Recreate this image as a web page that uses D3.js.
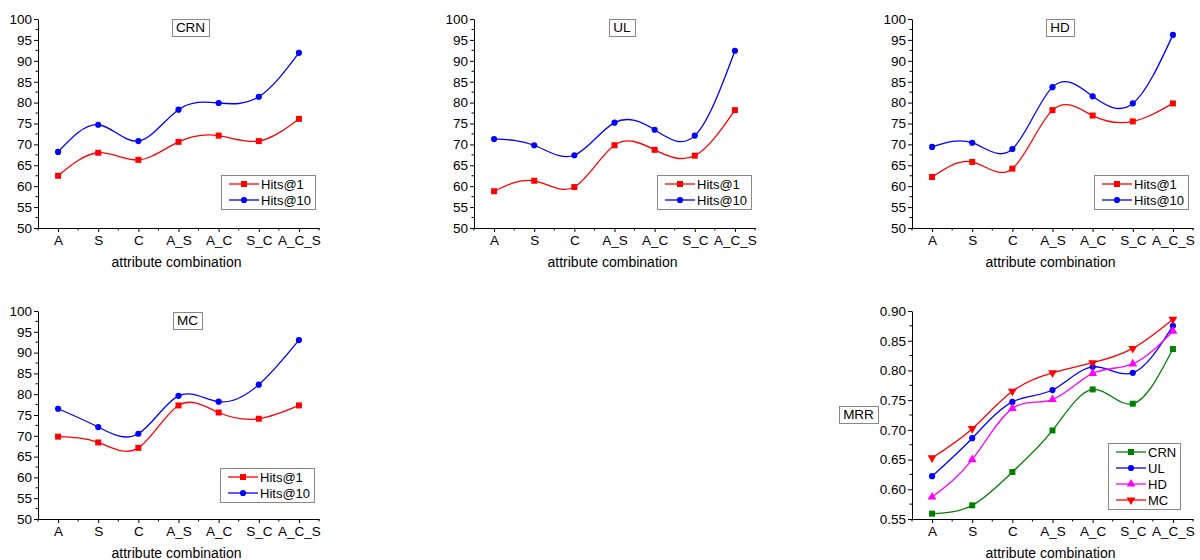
<!DOCTYPE html>
<html>
<head>
<meta charset="utf-8">
<script src="https://cdn.jsdelivr.net/npm/d3@7"></script>
<style>
  body { margin: 0; background: #fff; }
  svg { display: block; font-family: "Liberation Sans", Arial, sans-serif; }
</style>
</head>
<body>
<svg id="chart" width="1200" height="560"></svg>
<script>
// categorias do eixo x
const categories = ["A", "S", "C", "A_S", "A_C", "S_C", "A_C_S"];

// Hits@1 / Hits@10 por conjunto de dados
const crnHits1  = [62.5, 68.0, 66.3, 70.6, 72.1, 70.8, 76.1];
const crnHits10 = [68.2, 74.7, 70.8, 78.3, 79.9, 81.4, 91.9];
const ulHits1   = [58.8, 61.3, 59.8, 69.8, 68.7, 67.3, 78.2];
const ulHits10  = [71.3, 69.8, 67.4, 75.2, 73.5, 72.1, 92.4];
const hdHits1   = [62.2, 65.8, 64.2, 78.2, 76.9, 75.5, 79.8];
const hdHits10  = [69.4, 70.4, 68.9, 83.7, 81.5, 79.8, 96.2];
const mcHits1   = [69.8, 68.4, 67.1, 77.3, 75.6, 74.1, 77.3];
const mcHits10  = [76.5, 72.1, 70.5, 79.6, 78.2, 82.3, 93.0];

// MRR
const mrrCRN = [0.559, 0.573, 0.629, 0.699, 0.768, 0.744, 0.836];
const mrrUL  = [0.622, 0.686, 0.747, 0.767, 0.806, 0.796, 0.875];
const mrrHD  = [0.587, 0.650, 0.736, 0.751, 0.795, 0.811, 0.866];
const mrrMC  = [0.653, 0.702, 0.765, 0.796, 0.813, 0.837, 0.886];

const hitsTicks = [50, 55, 60, 65, 70, 75, 80, 85, 90, 95, 100];
const mrrTicks = [0.55, 0.60, 0.65, 0.70, 0.75, 0.80, 0.85, 0.90];

const svg = d3.select("#chart");
const FONT = 13.5;

const symbols = {
    square: d3.symbol().type(d3.symbolSquare).size(36),
    circle: d3.symbol().type(d3.symbolCircle).size(30),
    up: d3.symbol().type(d3.symbolTriangle).size(34),
    down: d3.symbol().type(d3.symbolTriangle).size(34)
};

function marker(g, shape, color, x, y) {
    g.append("path")
        .attr("d", symbols[shape]())
        .attr("transform", `translate(${x},${y})` + (shape === "down" ? " rotate(180)" : ""))
        .attr("fill", color);
}

function drawPanel(cfg) {
    const x = d3.scaleLinear().domain([-0.5, 6.5]).range([cfg.left, cfg.right]);
    const y = d3.scaleLinear().domain(cfg.domain).range([cfg.bottom, cfg.top]);
    const g = svg.append("g");

    // ticks secundários
    const step = cfg.ticks[1] - cfg.ticks[0];
    const yMinor = cfg.ticks.slice(0, -1).map(t => t + step / 2);
    const xMinor = d3.range(-0.5, 7, 1);

    g.selectAll(".ymin").data(yMinor).join("line")
        .attr("x1", cfg.left - 2.5).attr("x2", cfg.left)
        .attr("y1", d => y(d)).attr("y2", d => y(d))
        .attr("stroke", "#000");
    g.selectAll(".xmin").data(xMinor).join("line")
        .attr("x1", d => x(d)).attr("x2", d => x(d))
        .attr("y1", cfg.bottom).attr("y2", cfg.bottom + 2.5)
        .attr("stroke", "#000");

    const yAxis = g.append("g")
        .attr("transform", `translate(${cfg.left},0)`)
        .call(d3.axisLeft(y).tickValues(cfg.ticks).tickSize(4).tickSizeOuter(0).tickPadding(2)
            .tickFormat(cfg.format));
    const xAxis = g.append("g")
        .attr("transform", `translate(0,${cfg.bottom})`)
        .call(d3.axisBottom(x).tickValues(d3.range(7)).tickSize(4).tickSizeOuter(0).tickPadding(3)
            .tickFormat(i => categories[i]));
    [yAxis, xAxis].forEach(a => {
        a.attr("font-family", null).attr("font-size", FONT);
        a.selectAll("text").attr("fill", "#000");
    });

    g.append("text")
        .attr("x", (cfg.left + cfg.right) / 2 - 2)
        .attr("y", cfg.bottom + 39)
        .attr("text-anchor", "middle")
        .attr("font-size", 14)
        .text("attribute combination");

    // séries
    const line = d3.line()
        .x((d, i) => x(i))
        .y(d => y(d))
        .curve(d3.curveNatural);

    cfg.series.forEach(s => {
        g.append("path")
            .attr("d", line(s.values))
            .attr("fill", "none")
            .attr("stroke", s.color)
            .attr("stroke-width", 1.3);
        s.values.forEach((v, i) => marker(g, s.shape, s.color, x(i), y(v)));
    });

    // caixa com título
    if (cfg.title) {
        const box = g.append("rect").attr("fill", "#fff").attr("stroke", "#888");
        const t = g.append("text")
            .attr("x", cfg.title.x).attr("y", cfg.title.y)
            .attr("text-anchor", "middle")
            .attr("dominant-baseline", "central")
            .attr("font-size", 13.5)
            .text(cfg.title.text);
        const bb = t.node().getBBox();
        box.attr("x", Math.round(bb.x - 4) + 0.5).attr("y", Math.round(cfg.title.y - 8.5) + 0.5)
            .attr("width", Math.round(bb.width + 8)).attr("height", 17);
    }

    // legenda
    const lg = g.append("g");
    const rowH = 16;
    const lbox = lg.append("rect").attr("fill", "#fff").attr("stroke", "#888");
    const texts = cfg.series.map((s, i) => lg.append("text")
        .attr("x", 40).attr("y", 9 + i * rowH)
        .attr("dominant-baseline", "central")
        .attr("font-size", 13)
        .text(s.name));
    const tw = d3.max(texts, t => t.node().getBBox().width);
    const boxW = Math.round(40 + tw + 4);
    const boxH = cfg.series.length * rowH + 2;
    lbox.attr("x", 0.5).attr("y", 0.5).attr("width", boxW).attr("height", boxH);
    cfg.series.forEach((s, i) => {
        const yy = 9 + i * rowH;
        lg.append("line")
            .attr("x1", 8).attr("x2", 38).attr("y1", yy).attr("y2", yy)
            .attr("stroke", s.color).attr("stroke-width", 1.3);
        marker(lg, s.shape, s.color, 23, yy);
    });
    lg.attr("transform", `translate(${cfg.right - cfg.legendRight - boxW},${cfg.bottom - cfg.legendBottom - boxH})`);
}

function hitsSeries(h1, h10) {
    return [
        { name: "Hits@1", values: h1, color: "#ff0000", shape: "square" },
        { name: "Hits@10", values: h10, color: "#0000ff", shape: "circle" }
    ];
}

const hitsFmt = d3.format("d");

drawPanel({ left: 38, right: 319, top: 19, bottom: 228, domain: [50, 100], ticks: hitsTicks, format: hitsFmt,
    series: hitsSeries(crnHits1, crnHits10), title: { text: "CRN", x: 190.5, y: 27 }, legendRight: 4, legendBottom: 19 });
drawPanel({ left: 474, right: 755, top: 19, bottom: 228, domain: [50, 100], ticks: hitsTicks, format: hitsFmt,
    series: hitsSeries(ulHits1, ulHits10), title: { text: "UL", x: 622, y: 27 }, legendRight: 4, legendBottom: 19 });
drawPanel({ left: 912, right: 1193, top: 19, bottom: 228, domain: [50, 100], ticks: hitsTicks, format: hitsFmt,
    series: hitsSeries(hdHits1, hdHits10), title: { text: "HD", x: 1060, y: 27 }, legendRight: 5, legendBottom: 19 });
drawPanel({ left: 38, right: 319, top: 311, bottom: 519, domain: [50, 100], ticks: hitsTicks, format: hitsFmt,
    series: hitsSeries(mcHits1, mcHits10), title: { text: "MC", x: 187.5, y: 320 }, legendRight: 5, legendBottom: 17 });
drawPanel({ left: 912, right: 1193, top: 311, bottom: 519, domain: [0.55, 0.90], ticks: mrrTicks, format: d3.format(".2f"),
    series: [
        { name: "CRN", values: mrrCRN, color: "#008000", shape: "square" },
        { name: "UL", values: mrrUL, color: "#0000ff", shape: "circle" },
        { name: "HD", values: mrrHD, color: "#ff00ff", shape: "up" },
        { name: "MC", values: mrrMC, color: "#ff0000", shape: "down" }
    ],
    title: { text: "MRR", x: 858.5, y: 414 }, legendRight: 13, legendBottom: 10 });
</script>
</body>
</html>
